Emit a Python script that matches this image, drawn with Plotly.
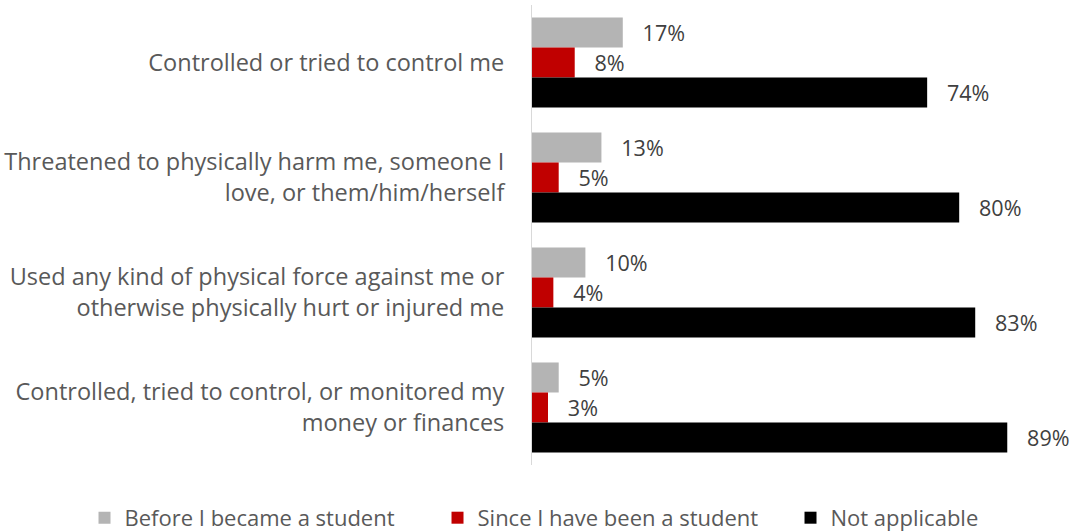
import plotly.graph_objects as go

categories = [
    "Controlled or tried to control me",
    "Threatened to physically harm me, someone I<br>love, or them/him/herself",
    "Used any kind of physical force against me or<br>otherwise physically hurt or injured me",
    "Controlled, tried to control, or monitored my<br>money or finances",
]
series_names = ["Before I became a student", "Since I have been a student", "Not applicable"]
before = [17, 13, 10, 5]
since = [8, 5, 4, 3]
not_applicable = [74, 80, 83, 89]
colors = ["#b4b4b4", "#c00000", "#000000"]

FONT = "Open Sans"

fig = go.Figure()
for name, vals, col in zip(series_names, [before, since, not_applicable], colors):
    fig.add_trace(go.Bar(
        y=categories, x=vals, name=name, orientation="h",
        marker=dict(color=col, line=dict(width=0)),
        text=[f"{v}%" for v in vals],
        texttemplate="   %{text}",
        textposition="outside",
        cliponaxis=False,
        textfont=dict(family=FONT, size=23, color="#404040"),
    ))

fig.update_layout(
    width=1072, height=531,
    margin=dict(l=532, r=6, t=5, b=66, autoexpand=False),
    paper_bgcolor="white", plot_bgcolor="white",
    barmode="group", bargap=0.217, bargroupgap=0,
    font=dict(family=FONT, size=23, color="#595959"),
    showlegend=True,
    legend=dict(orientation="h", xref="paper", yref="paper",
                x=-0.838, xanchor="left", y=-0.115, yanchor="middle",
                font=dict(family=FONT, size=22, color="#595959"),
                itemwidth=30, traceorder="normal",
                entrywidth=308, entrywidthmode="pixels"),
    xaxis=dict(range=[0, 100], visible=False, showgrid=False, zeroline=False),
    yaxis=dict(autorange="reversed", showline=True, linecolor="#d9d9d9", linewidth=1,
               ticks="", showgrid=False, ticklabelstandoff=22, automargin=False,
               tickfont=dict(family=FONT, size=23.5, color="#595959")),
)

fig.write_html("out.html", config={"displayModeBar": False},
               post_script="document.body.style.margin='0';")
